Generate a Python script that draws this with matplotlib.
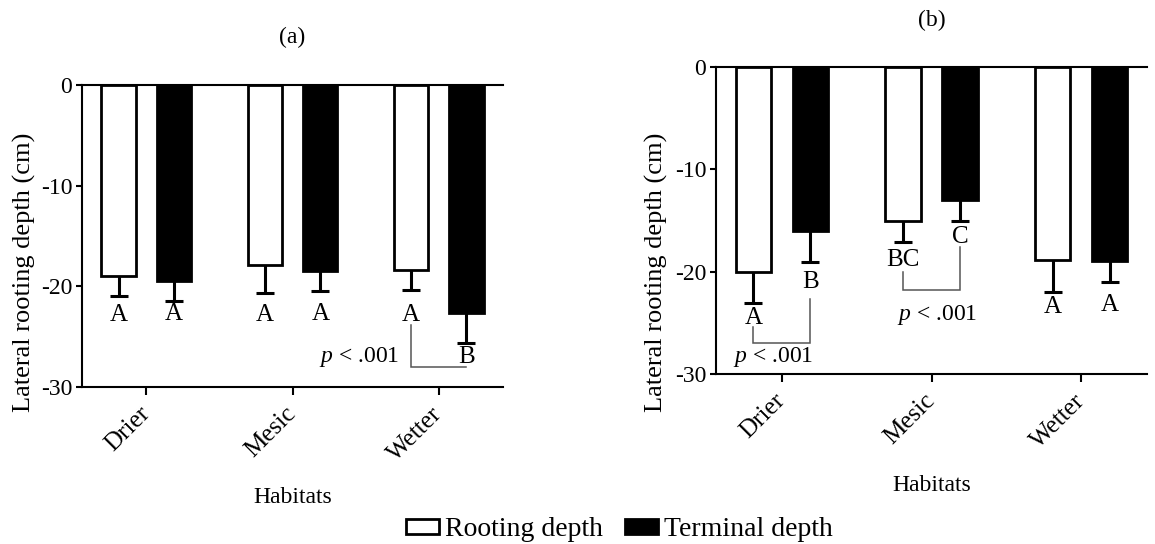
import numpy as np
import matplotlib
matplotlib.use("Agg")
import matplotlib.pyplot as plt
from matplotlib.patches import Patch

plt.rcParams['font.family'] = ['Liberation Serif', 'DejaVu Serif']
plt.rcParams['mathtext.fontset'] = 'custom'
plt.rcParams['mathtext.rm'] = 'Liberation Serif'
plt.rcParams['mathtext.it'] = 'Liberation Serif:italic'

habitats = ['Drier', 'Mesic', 'Wetter']

# (a) lateral rooting depth, mean and lower error
a_rooting = [-19.0, -17.9, -18.4]
a_rooting_err = [2.0, 2.8, 2.0]
a_terminal = [-19.5, -18.5, -22.6]
a_terminal_err = [2.0, 2.0, 3.0]
a_rooting_grp = ['A', 'A', 'A']
a_terminal_grp = ['A', 'A', 'B']

# (b)
b_rooting = [-20.0, -15.0, -18.9]
b_rooting_err = [3.1, 2.1, 3.1]
b_terminal = [-16.0, -13.0, -19.0]
b_terminal_err = [3.1, 2.05, 2.0]
b_rooting_grp = ['A', 'BC', 'A']
b_terminal_grp = ['B', 'C', 'A']

W, H = 1155, 544
fig = plt.figure(figsize=(W / 100, H / 100), dpi=100)

def box(l, r, t, b):
    return [l / W, 1 - b / H, (r - l) / W, (b - t) / H]

ax_a = fig.add_axes(box(82, 503, 85, 387))
ax_b = fig.add_axes(box(716, 1147, 67, 374))

x = np.arange(len(habitats))
off = 0.19
bw = 0.235


def draw_panel(ax, rooting, r_err, terminal, t_err, title, title_y, ylab_x, xlab_y):
    xr = x - off
    xt = x + off
    ax.bar(xr, rooting, bw, color='white', edgecolor='black', linewidth=2.0, zorder=3)
    ax.bar(xt, terminal, bw, color='black', edgecolor='black', linewidth=2.0, zorder=3)
    for xs, v, e in ((xr, rooting, r_err), (xt, terminal, t_err)):
        _, caps, _ = ax.errorbar(xs, v, yerr=[e, np.zeros(len(e))], fmt='none',
                                 ecolor='black', elinewidth=2.2, capsize=6.5,
                                 capthick=2.2, zorder=2)
        caps[1].set_visible(False)
    ax.set_xlim(-0.44, 2.44)
    ax.set_ylim(-30, 0)
    ax.set_yticks([0, -10, -20, -30])
    ax.set_yticklabels(['0', '-10', '-20', '-30'])
    ax.set_xticks(x)
    ax.set_xticklabels(habitats, rotation=45, ha='right', va='center',
                       rotation_mode='anchor')
    ax.tick_params(axis='x', length=6, width=1.5, pad=11, labelsize=18)
    ax.tick_params(axis='y', length=4, width=1.5, pad=3, labelsize=17)
    for s in ('left', 'bottom', 'top'):
        ax.spines[s].set_linewidth(1.5)
    ax.spines['right'].set_visible(False)
    ax.text(0.5, title_y, title, transform=fig.transFigure, ha='center',
            va='center', fontsize=17)
    ax.set_ylabel('Lateral rooting depth (cm)', fontsize=19)
    ax.set_xlabel('Habitats', fontsize=17)
    ax.yaxis.set_label_coords(ylab_x, 0.5, transform=fig.transFigure)
    ax.xaxis.set_label_coords(0.5, xlab_y)
    return xr, xt


def bracket(ax, x0, y0, x1, y1, y_mid):
    ax.plot([x0, x0, x1, x1], [y0, y_mid, y_mid, y1], color='#555555', lw=1.1,
            zorder=4, solid_joinstyle='miter')


ptxt = r'$\it{p}$ < .001'

# panel (a)
xr, xt = draw_panel(ax_a, a_rooting, a_rooting_err, a_terminal, a_terminal_err,
                    '(a)', 1 - 37 / H, 36 / W, -(487 - 387) / (387 - 85))
ax_a.texts[-1].set_x(292 / W)
for i in range(3):
    ax_a.text(xr[i], -22.8, a_rooting_grp[i], ha='center', va='center', fontsize=18)
    ax_a.text(xt[i], -22.7 if i < 2 else -27.0, a_terminal_grp[i],
              ha='center', va='center', fontsize=18)
bracket(ax_a, xr[2], -23.8, xt[2], -28.0, -28.0)
ax_a.text(xr[2] - 0.08, -27.0, ptxt, ha='right', va='center', fontsize=17)

# panel (b)
xr, xt = draw_panel(ax_b, b_rooting, b_rooting_err, b_terminal, b_terminal_err,
                    '(b)', 1 - 20 / H, 668 / W, -(475 - 374) / (374 - 67))
ax_b.texts[-1].set_x(932 / W)
b_rooting_y = [-24.5, -18.9, -23.5]
b_terminal_y = [-21.0, -16.6, -23.3]
for i in range(3):
    ax_b.text(xr[i], b_rooting_y[i], b_rooting_grp[i], ha='center', va='center', fontsize=18)
    ax_b.text(xt[i], b_terminal_y[i], b_terminal_grp[i], ha='center', va='center', fontsize=18)
bracket(ax_b, xr[0], -25.4, xt[0], -22.7, -27.0)
ax_b.text(x[0] - 0.06, -28.3, ptxt, ha='center', va='center', fontsize=17)
bracket(ax_b, xr[1], -20.0, xt[1], -17.6, -21.8)
ax_b.text(x[1] + 0.04, -24.2, ptxt, ha='center', va='center', fontsize=17)

handles = [Patch(facecolor='white', edgecolor='black', linewidth=2.0),
           Patch(facecolor='black', edgecolor='black', linewidth=2.0)]
fig.legend(handles, ['Rooting depth', 'Terminal depth'], loc='center',
           bbox_to_anchor=(619 / W, 1 - 530 / H), ncol=2, frameon=False,
           fontsize=20, handlelength=1.2, handleheight=0.42,
           handletextpad=0.2, columnspacing=0.8, borderpad=0)

fig.savefig('out.png', dpi=100)
